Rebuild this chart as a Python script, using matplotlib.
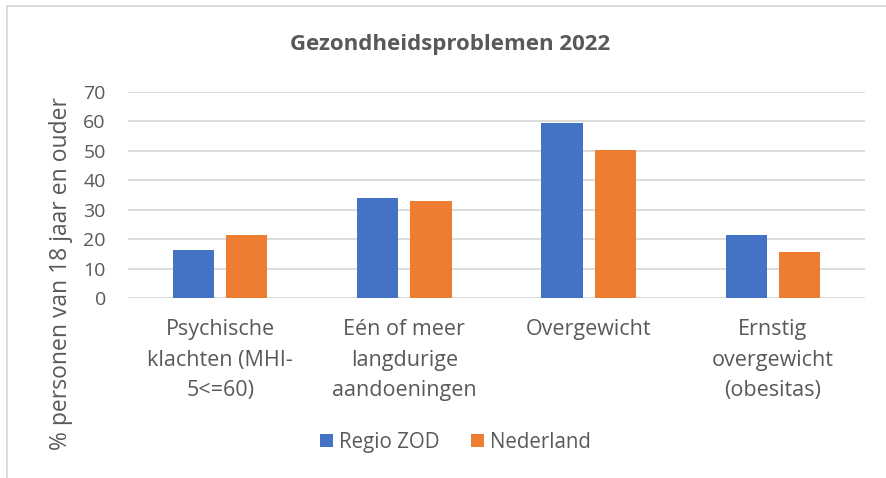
import matplotlib

matplotlib.use("Agg")
import matplotlib.pyplot as plt
import numpy as np
from matplotlib.lines import Line2D

plt.rcParams["font.family"] = ["Open Sans", "DejaVu Sans"]

categories = [
    "Psychische\nklachten (MHI-\n5<=60)",
    "Eén of meer\nlangdurige\naandoeningen",
    "Overgewicht",
    "Ernstig\novergewicht\n(obesitas)",
]
regio_zod = [16.5, 33.9, 59.4, 21.6]
nederland = [21.4, 32.9, 50.2, 15.7]
series_names = ["Regio ZOD", "Nederland"]
yticks = [0, 10, 20, 30, 40, 50, 60, 70]

BLUE, ORANGE = "#4472C4", "#ED7D31"
TEXT, GRID = "#595959", "#D9D9D9"

fig = plt.figure(figsize=(8.86, 4.78), dpi=100)
ax = fig.add_axes([0.1445, 0.376, 0.8318, 0.4316])

x = np.arange(len(categories))
w = 0.223
off = w / 2 + 0.033
ax.bar(x - off, regio_zod, w, color=BLUE, label=series_names[0], zorder=3)
ax.bar(x + off, nederland, w, color=ORANGE, label=series_names[1], zorder=3)

ax.set_xlim(-0.5, len(categories) - 0.5)
ax.set_ylim(0, 70)
ax.set_yticks(yticks)
ax.yaxis.grid(True, color=GRID, linewidth=1.3, zorder=0)
ax.set_axisbelow(True)
for s in ax.spines.values():
    s.set_visible(False)
ax.set_xticks(x)
ax.set_xticklabels(categories, linespacing=1.6, fontsize=15.5)
ax.tick_params(axis="both", length=0, labelcolor=TEXT)
ax.tick_params(axis="y", labelsize=14, pad=16)
ax.tick_params(axis="x", pad=15)
ax.set_ylabel("% personen van 18 jaar en ouder", fontsize=16.5, color=TEXT)
ax.yaxis.set_label_coords(-0.075, 0.118)

fig.text(0.508, 0.907, "Gezondheidsproblemen 2022", ha="center", va="center",
         fontsize=16, fontweight="bold", color=TEXT)

fig.legend(loc="center", bbox_to_anchor=(0.514, 0.075), ncol=2, frameon=False,
           fontsize=14.8, labelcolor=TEXT, handlelength=0.65, handleheight=0.65,
           handletextpad=0.3, columnspacing=1.5)

# light frame around the chart area (top and left edges visible)
fig.add_artist(Line2D([7 / 886, 7 / 886], [0, 1 - 6 / 478], color=GRID, linewidth=1.3))
fig.add_artist(Line2D([7 / 886, 1], [1 - 6 / 478, 1 - 6 / 478], color=GRID, linewidth=1.3))

fig.savefig("out.png", dpi=100)
